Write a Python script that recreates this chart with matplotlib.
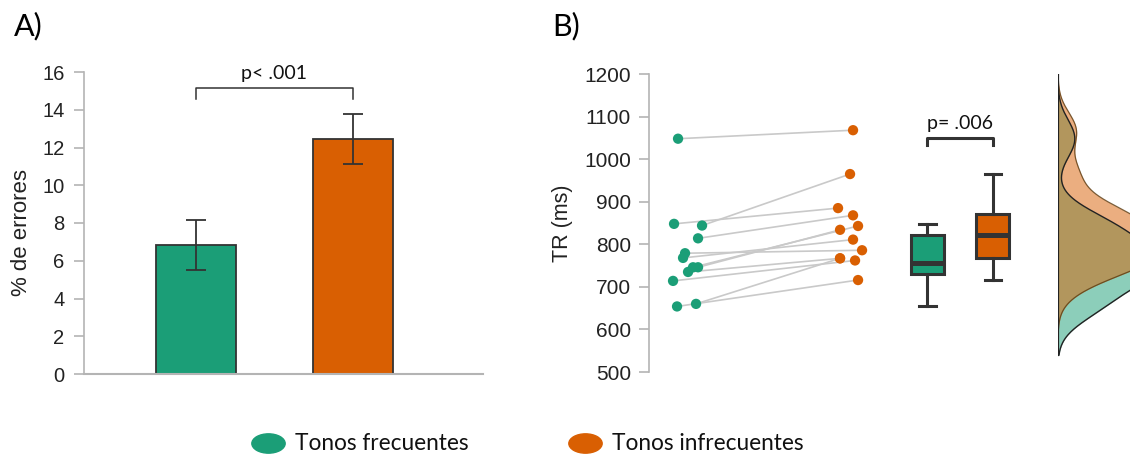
import numpy as np
import matplotlib
matplotlib.use("Agg")
import matplotlib.pyplot as plt
from matplotlib.lines import Line2D
from matplotlib.path import Path
from matplotlib.transforms import Affine2D

# ---- data ----
groups = ["Tonos frecuentes", "Tonos infrecuentes"]
err_mean = [6.85, 12.45]          # % de errores
err_low = [5.5, 11.1]
err_high = [8.15, 13.75]

# TR (ms) per subject, paired by index
tr_frec = [1048, 848, 844, 814, 779, 768, 746, 746, 735, 714, 660, 654]
tr_infrec = [1068, 885, 965, 868, 786, 811, 843, 834, 767, 762, 767, 716]

p_errores = "p< .001"
p_tr = "p= .006"

GREEN = "#1b9e77"
ORANGE = "#d95f02"
DARK = "#333333"
SPINE = "#b4b4b4"

plt.rcParams["font.family"] = ["Liberation Sans", "DejaVu Sans"]
LABEL_FONT = ["Lato", "DejaVu Sans"]

fig = plt.figure(figsize=(11.3, 4.55), dpi=100)

# ---- A) error bars ----
axA = fig.add_axes([84 / 1130, 81 / 455, 399 / 1130, 302 / 455])
xpos = np.array([0, 1])
yerr = [np.array(err_mean) - np.array(err_low), np.array(err_high) - np.array(err_mean)]
axA.bar(xpos, err_mean, width=0.511, color=[GREEN, ORANGE], edgecolor=DARK, linewidth=1.3, zorder=2)
axA.errorbar(xpos, err_mean, yerr=yerr, fmt="none", ecolor=DARK, elinewidth=1.3,
             capsize=7, capthick=1.3, zorder=3)
axA.set_xlim(-0.716, -0.716 + 399 / 156.5)
axA.set_ylim(0, 16)
axA.set_yticks(np.arange(0, 17, 2))
axA.set_xticks([])
for s in ["top", "right"]:
    axA.spines[s].set_visible(False)
axA.spines["left"].set_color(SPINE)
axA.spines["bottom"].set_color(SPINE)
axA.spines["left"].set_linewidth(1.2)
axA.spines["bottom"].set_linewidth(1.5)
axA.tick_params(axis="y", length=7, width=1.2, color=SPINE, labelsize=14.5,
                labelcolor="#222222", pad=7)
axA.set_ylabel("% de errores", fontsize=16, color="#222222")
axA.yaxis.set_label_coords(-0.13, 0.47)

# significance bracket
axA.plot([0, 0, 1, 1], [14.57, 15.15, 15.15, 14.57], color=DARK, lw=1.1, clip_on=False)
axA.text(0.5, 15.47, p_errores, ha="center", va="bottom", fontsize=14,
         family=LABEL_FONT, color="#111111")

# ---- B) paired dots + boxes ----
axB = fig.add_axes([649 / 1130, 83 / 455, 391 / 1130, 298 / 455])
jit_frec = np.array([-10, -14, 14, 10, -3, -5, 5, 10, 0, -15, 8, -11]) / 162
jit_infrec = np.array([3, -12, 0, 3, 12, 3, 8, -10, -10, 5, -10, 8]) / 162
xf = 1 + jit_frec
xi = 2 + jit_infrec
for a, b, ya, yb in zip(xf, xi, tr_frec, tr_infrec):
    axB.plot([a, b], [ya, yb], color="#c9c9c9", lw=1.2, zorder=1)
axB.scatter(xf, tr_frec, s=55, color=GREEN, edgecolor="none", zorder=3)
axB.scatter(xi, tr_infrec, s=55, color=ORANGE, edgecolor="none", zorder=3)

box_pos = [2.478, 2.88]
bp = axB.boxplot([tr_frec, tr_infrec], positions=box_pos, widths=0.204,
                 showfliers=False, patch_artist=True, capwidths=0.1,
                 boxprops=dict(linewidth=2.2, edgecolor=DARK),
                 medianprops=dict(linewidth=3.6, color=DARK),
                 whiskerprops=dict(linewidth=2.2, color=DARK),
                 capprops=dict(linewidth=2.2, color=DARK))
for patch, c in zip(bp["boxes"], [GREEN, ORANGE]):
    patch.set_facecolor(c)

axB.plot([box_pos[0], box_pos[0], box_pos[1], box_pos[1]], [1033, 1050, 1050, 1033],
         color=DARK, lw=2.2)
axB.text(np.mean(box_pos), 1064, p_tr, ha="center", va="bottom", fontsize=14,
         family=LABEL_FONT, color="#111111")

axB.set_xlim(0.759, 0.759 + 391 / 162)
axB.set_ylim(500, 1200)
axB.set_yticks(np.arange(500, 1201, 100))
axB.set_xticks([])
for s in ["top", "right", "bottom"]:
    axB.spines[s].set_visible(False)
axB.spines["left"].set_color(SPINE)
axB.spines["left"].set_linewidth(1.2)
axB.tick_params(axis="y", length=7, width=1.2, color=SPINE, labelsize=15,
                labelcolor="#222222", pad=6)
axB.set_ylabel("TR (ms)", fontsize=15.5, color="#222222", labelpad=8)

# ---- half-violin densities ----
axD = fig.add_axes([1058 / 1130, 83 / 455, 104 / 1130, 298 / 455])
grid = np.linspace(540, 1198, 400)


def kde(values, bw):
    v = np.asarray(values, dtype=float)[:, None]
    return np.exp(-0.5 * ((grid[None, :] - v) / bw) ** 2).sum(axis=0) / (len(v) * bw * np.sqrt(2 * np.pi))


d_frec = kde(tr_frec, 44)
d_infrec = kde(tr_infrec, 42)
axD.fill_betweenx(grid, 0, d_frec, color=GREEN, alpha=0.5, lw=0)
axD.fill_betweenx(grid, 0, d_infrec, color=ORANGE, alpha=0.5, lw=0)
axD.plot(d_frec, grid, color="#222222", lw=1.0)
axD.plot(d_infrec, grid, color="#5a3a10", lw=0.9, alpha=0.8)
axD.plot([0, 0], [grid[0], grid[-1]], color="#222222", lw=1.6)
axD.set_xlim(0, max(d_frec.max(), d_infrec.max()))
axD.set_ylim(500, 1200)
axD.axis("off")

# ---- panel letters ----
fig.text(14 / 1130, 1 - 35 / 455, "A)", fontsize=22, family=LABEL_FONT, va="baseline")
fig.text(552 / 1130, 1 - 35 / 455, "B)", fontsize=22, family=LABEL_FONT, va="baseline")

# ---- legend ----
ell = Path.unit_circle().transformed(Affine2D().scale(1.0, 0.58))
for xm, xt, c, lab in [(268, 295, GREEN, groups[0]), (585, 612, ORANGE, groups[1])]:
    fig.add_artist(Line2D([xm / 1130], [1 - 443 / 455], transform=fig.transFigure,
                          marker=ell, markersize=24, color=c, linestyle="none"))
    fig.text(xt / 1130, 1 - 443 / 455, lab, fontsize=16.3, family=LABEL_FONT,
             va="center", ha="left", color="#111111")

fig.savefig("out.png", dpi=100)
